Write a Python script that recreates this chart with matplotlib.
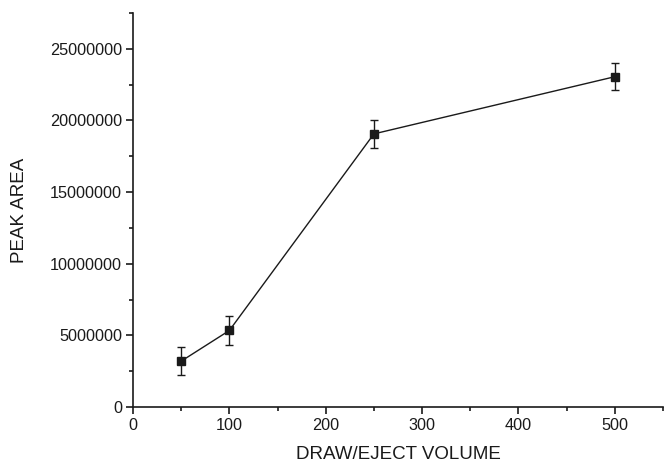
import numpy as np
import matplotlib
matplotlib.use("Agg")
import matplotlib.pyplot as plt
from matplotlib.ticker import MultipleLocator

volume = [50, 100, 250, 500]
peak_area = [3200000, 5340000, 19060000, 23050000]
peak_err = [1000000, 1000000, 1000000, 950000]

plt.rcParams['font.family'] = ['Liberation Sans', 'DejaVu Sans']

fig = plt.figure(figsize=(6.64, 4.62), dpi=100)
ax = fig.add_axes([0.2003, 0.119, 0.7982, 0.853])

ax.errorbar(volume, peak_area, yerr=peak_err, color='#1a1a1a', lw=1.0,
            marker='s', markersize=6.3, capsize=3.2, elinewidth=1.0, capthick=1.0)

ax.set_xlim(0, 550)
ax.set_ylim(0, 27500000)
ax.xaxis.set_major_locator(MultipleLocator(100))
ax.xaxis.set_minor_locator(MultipleLocator(50))
ax.yaxis.set_major_locator(MultipleLocator(5000000))
ax.yaxis.set_minor_locator(MultipleLocator(2500000))
ax.yaxis.set_major_formatter(matplotlib.ticker.FuncFormatter(lambda v, p: '%d' % v))

for s in ['top', 'right']:
    ax.spines[s].set_visible(False)
for s in ['left', 'bottom']:
    ax.spines[s].set_linewidth(1.2)
    ax.spines[s].set_color('#1a1a1a')

ax.tick_params(which='major', direction='out', length=5, width=1.2, labelsize=11.7, colors='#1a1a1a', pad=3)
ax.tick_params(which='minor', direction='out', length=3, width=1.2, colors='#1a1a1a')

ax.set_xlabel('DRAW/EJECT VOLUME', fontsize=13.5, color='#1a1a1a', labelpad=9)
ax.set_ylabel('PEAK AREA', fontsize=13.5, color='#1a1a1a', labelpad=16)

fig.savefig('out.png', dpi=100)
